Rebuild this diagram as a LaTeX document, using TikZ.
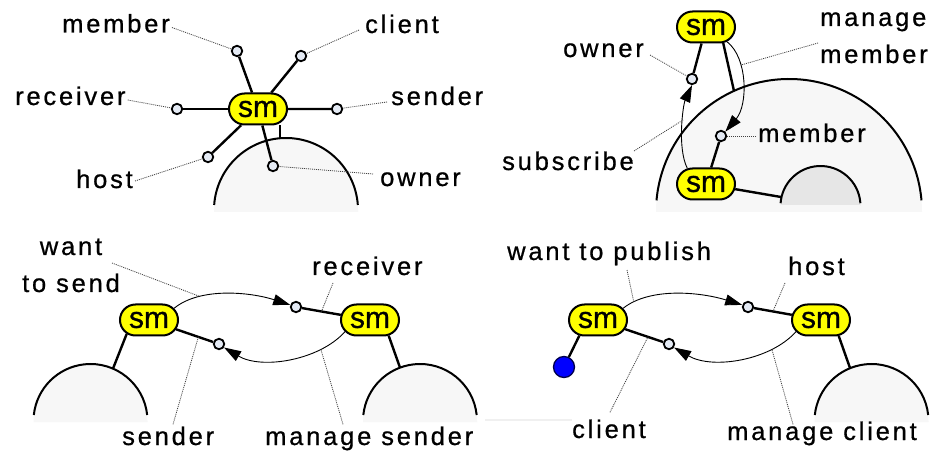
\documentclass[tikz,border=0pt]{standalone}
\usepackage{fontspec}
\setmainfont{Liberation Sans}
\newfontfamily\lblfont[LetterSpace=11,FakeBold=0.7]{Liberation Sans}
\newfontfamily\smfont[FakeBold=0.7]{Liberation Sans}
\usetikzlibrary{shapes.misc,arrows.meta,calc}
\definecolor{smfill}{HTML}{FFFF00}
\definecolor{portfill}{HTML}{E4EAF4}
\definecolor{discfill}{HTML}{F7F7F7}
\definecolor{innerfill}{HTML}{E6E6E6}
\definecolor{leadgray}{HTML}{404040}
\definecolor{dotblue}{HTML}{0000FF}
\definecolor{stripgray}{HTML}{F0F0F0}

\tikzset{
  sm/.style={rounded rectangle, draw=black, line width=2pt, fill=smfill,
    minimum width=58pt, minimum height=31pt, inner sep=0pt,
    font=\smfont\fontsize{30}{30}\selectfont},
  port/.style={circle, draw=black, line width=1.8pt, fill=portfill,
    minimum size=10.5pt, inner sep=0pt},
  lbl/.style={inner sep=0pt, font=\lblfont\fontsize{25.5}{37}\selectfont},
  wire/.style={line width=2.4pt},
  flow/.style={line width=0.9pt, -{Triangle[length=17pt,width=11pt]}},
  leader/.style={line width=0.8pt, leadgray, dash pattern=on 1pt off 1pt},
  rim/.style={line width=2pt}
}

% half disc: centre x, centre y, radius, bottom of fill, end angle of rim, fill colour
\newcommand\halfdisc[6]{%
  \fill[#6] ({#1+#3},#4) -- ({#1+#3},#2) arc[start angle=0,end angle=180,radius=#3]
    -- ({#1-#3},#4) -- cycle;
  \draw[rim] ({#1+#3*cos(#5)},{#2+#3*sin(#5)})
    arc[start angle=#5,end angle={180-#5},radius=#3];
}

\begin{document}
\begin{tikzpicture}[x=1pt,y=1pt]
\useasboundingbox (0,0) rectangle (938,-457);
\fill[white] (0,0) rectangle (938,-457);

% ---------- containers ----------
\halfdisc{286}{-210}{72}{-212}{4}{discfill}
\halfdisc{789}{-212}{133}{-212}{5}{discfill}
\halfdisc{820.5}{-206}{40}{-205}{4}{innerfill}
\halfdisc{90.5}{-421}{57}{-422}{6}{discfill}
\halfdisc{420}{-421}{57}{-422}{6}{discfill}
\halfdisc{871.5}{-421}{57}{-422}{6}{discfill}
\fill[stripgray] (485,-418.5) rectangle (572,-421);

% ---------- panel 1: all port kinds of one sm ----------
\node[sm] (sm1) at (258,-109) {sm};
\node[port] (p1mem) at (237,-51) {};
\node[port] (p1cli) at (301,-56) {};
\node[port] (p1rec) at (177,-109) {};
\node[port] (p1snd) at (337,-109) {};
\node[port] (p1hst) at (208,-157) {};
\node[port] (p1own) at (273,-166) {};
\coordinate (c1) at (280,-138.3);
\draw[wire] (sm1) -- (p1mem);
\draw[wire] (sm1) -- (p1cli);
\draw[wire] (sm1) -- (p1rec);
\draw[wire] (sm1) -- (p1snd);
\draw[wire] (sm1) -- (p1hst);
\draw[wire] (sm1) -- (p1own);
\draw[wire] (sm1.south -| c1) -- (c1);

\node[lbl, anchor=base west] (l1mem) at (62,-32.5) {member};
\node[lbl, anchor=base west] (l1cli) at (365,-33) {client};
\node[lbl, anchor=base west] (l1rec) at (15,-105) {receiver};
\node[lbl, anchor=base west] (l1snd) at (391,-105) {sender};
\node[lbl, anchor=base west] (l1hst) at (76,-188) {host};
\node[lbl, anchor=base west] (l1own) at (380,-186) {owner};
\draw[leader] ($(l1mem.base east)+(2,5)$) -- (p1mem);
\draw[leader] ($(l1cli.base west)+(-6,3)$) -- (p1cli);
\draw[leader] ($(l1rec.base east)+(2,5)$) -- (p1rec);
\draw[leader] ($(l1snd.base west)+(-4,3)$) -- (p1snd);
\draw[leader] ($(l1hst.base east)+(2,7)$) -- (p1hst);
\draw[leader] ($(l1own.base west)+(-7,12)$) -- (p1own);

% ---------- panel 2: subscribe / manage member ----------
\node[sm] (sm2a) at (706,-27) {sm};
\node[sm] (sm2b) at (706,-184) {sm};
\node[port] (p2own) at (692,-79) {};
\node[port] (p2mem) at (721,-136) {};
\coordinate (c2top) at (734,-91);
\coordinate (c2in) at (781,-197);
\draw[wire] (sm2a) -- (p2own);
\draw[wire] (sm2b) -- (p2mem);
\draw[wire] (sm2a.-43) -- (c2top);
\draw[wire] (sm2b.-10) -- (c2in);
\draw[flow] (sm2b.140) .. controls (677,-148) and (683,-105) ..
  coordinate[pos=0.57] (subpt) (p2own.south);
\draw[flow] (sm2a.-35) .. controls (748,-58) and (748,-105) ..
  coordinate[pos=0.32] (mmpt) (p2mem.45);

\node[lbl, anchor=base west] (l2own) at (563,-57) {owner};
\node[lbl, anchor=base west, align=left] (l2mm) at (820,-63) {manage\\member};
\node[lbl, anchor=base west] (l2mem) at (758,-142) {member};
\node[lbl, anchor=base west] (l2sub) at (502,-170) {subscribe};
\draw[leader] ($(l2own.base east)+(6,2)$) -- (p2own);
\draw[leader] ($(l2mm.base west)+(-2,20)$) -- (mmpt);
\draw[leader] ($(l2mem.base west)+(-2,6)$) -- (p2mem);
\draw[leader] ($(l2sub.base east)+(0,19)$) -- (subpt);

% ---------- panel 3: sender / receiver ----------
\node[sm] (sm3a) at (149,-320) {sm};
\node[sm] (sm3b) at (370,-320) {sm};
\node[port] (p3rec) at (296,-307) {};
\node[port] (p3snd) at (219,-344) {};
\coordinate (c3a) at (113,-368.6);
\coordinate (c3b) at (400,-367.6);
\draw[wire] (sm3b) -- coordinate[pos=0.5] (w3r) (p3rec);
\draw[wire] (sm3a) -- coordinate[pos=0.6] (w3s) (p3snd);
\draw[wire] (sm3a.-148) -- (c3a);
\draw[wire] (sm3b.-40) -- (c3b);
\draw[flow] (sm3a.25) .. controls (200,-287) and (250,-292) ..
  coordinate[pos=0.27] (wtspt) (p3rec.160);
\draw[flow] (sm3b.-155) .. controls (320,-360) and (262,-370) ..
  coordinate[pos=0.25] (mspt) (p3snd.-35);

\node[lbl, anchor=base, align=center] (l3wts) at (71,-292) {want\\to send};
\node[lbl, anchor=base west] (l3rec) at (312,-275) {receiver};
\node[lbl, anchor=base west] (l3snd) at (122,-445) {sender};
\node[lbl, anchor=base west] (l3ms) at (265,-445) {manage sender};
\draw[leader] ($(l3wts.base)+(41,29)$) -- (wtspt);
\draw[leader] ($(l3rec.base west)+(21,-8)$) -- (w3r);
\draw[leader] ($(l3snd.north west)+(51,2)$) -- (w3s);
\draw[leader] ($(l3ms.north west)+(78,2)$) -- (mspt);

% ---------- panel 4: client / host ----------
\node[sm] (sm4a) at (598,-320) {sm};
\node[sm] (sm4b) at (821,-320) {sm};
\node[port] (p4hst) at (748,-307) {};
\node[port] (p4cli) at (669,-344) {};
\node[circle, draw=black!70!blue, line width=1.3pt, fill=dotblue,
  minimum size=21pt, inner sep=0pt] (dot4) at (564,-367) {};
\coordinate (c4b) at (850,-368);
\draw[wire] (sm4b) -- coordinate[pos=0.5] (w4h) (p4hst);
\draw[wire] (sm4a) -- coordinate[pos=0.6] (w4c) (p4cli);
\draw[wire] (sm4a.-140) -- (dot4);
\draw[wire] (sm4b.-42) -- (c4b);
\draw[flow] (sm4a.25) .. controls (650,-287) and (700,-292) ..
  coordinate[pos=0.12] (wtppt) (p4hst.160);
\draw[flow] (sm4b.-155) .. controls (771,-360) and (713,-370) ..
  coordinate[pos=0.25] (mcpt) (p4cli.-35);

\node[lbl, anchor=base west] (l4wtp) at (507,-260) {want to publish};
\node[lbl, anchor=base west] (l4hst) at (788,-275) {host};
\node[lbl, anchor=base west] (l4cli) at (572,-438) {client};
\node[lbl, anchor=base west] (l4mc) at (727,-440) {manage client};
\draw[leader] ($(l4wtp.base west)+(120,-10)$) -- (wtppt);
\draw[leader] ($(l4hst.base west)+(-3,-8)$) -- (w4h);
\draw[leader] ($(l4cli.north west)+(38,7)$) -- (w4c);
\draw[leader] ($(l4mc.north west)+(66,-3)$) -- (mcpt);
\end{tikzpicture}
\end{document}
